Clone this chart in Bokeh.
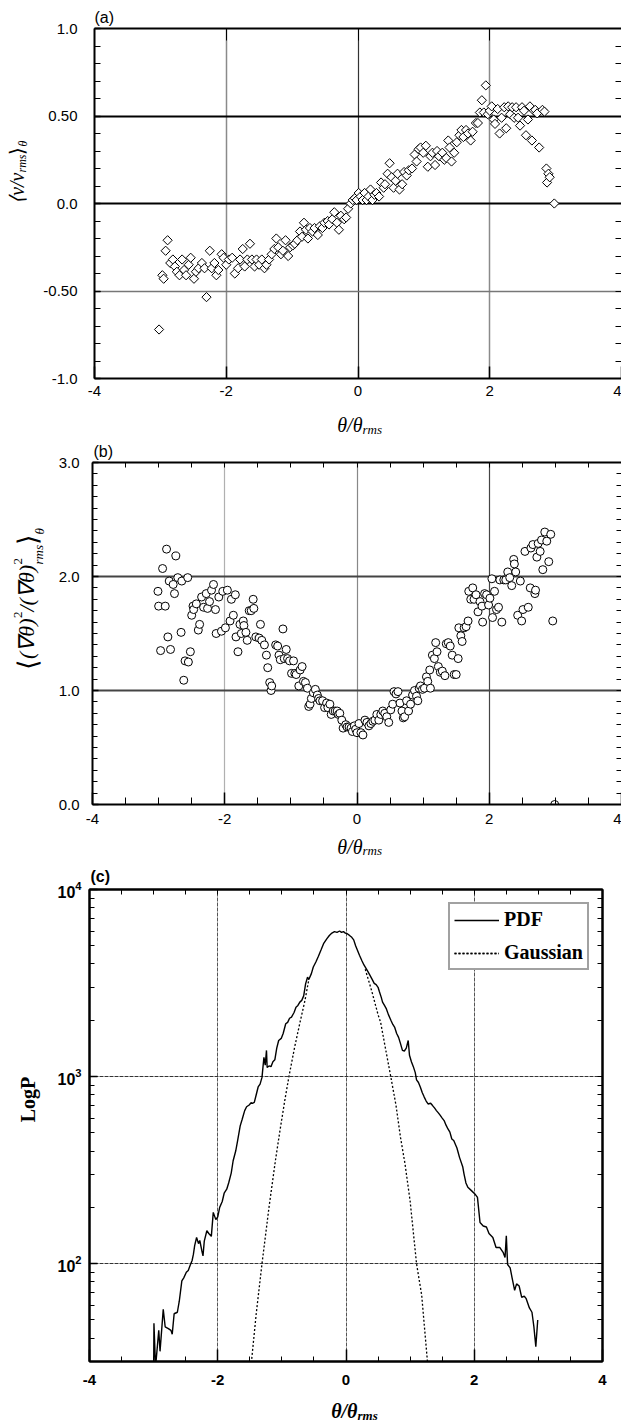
import math
from bokeh.plotting import figure
from bokeh.models import (Label, Title, LinearAxis, LogAxis, LogTicker, SingleIntervalTicker,
                          FixedTicker, Grid, Range1d, CustomJSTickFormatter)
from bokeh.layouts import column, row
from bokeh.embed import file_html
from bokeh.resources import INLINE

# ---------------- data: panel (a) ----------------
A_X = [-3.02, -2.97, -2.95, -2.92, -2.89, -2.85, -2.81, -2.78, -2.75, -2.71,
       -2.67, -2.64, -2.61, -2.57, -2.54, -2.49, -2.46, -2.42, -2.37, -2.33,
       -2.30, -2.25, -2.22, -2.18, -2.15, -2.12, -2.07, -2.04, -2.00, -1.96,
       -1.91, -1.87, -1.82, -1.79, -1.75, -1.72, -1.68, -1.64, -1.61, -1.57,
       -1.54, -1.50, -1.46, -1.42, -1.39, -1.35, -1.31, -1.27, -1.24, -1.21,
       -1.17, -1.14, -1.10, -1.06, -1.03, -0.99, -0.96, -0.92, -0.88, -0.85,
       -0.82, -0.79, -0.76, -0.73, -0.69, -0.66, -0.61, -0.58, -0.54, -0.51,
       -0.46, -0.44, -0.39, -0.36, -0.32, -0.29, -0.26, -0.21, -0.18, -0.15,
       -0.11, -0.08, -0.05, -0.02, 0.01, 0.04, 0.07, 0.10, 0.13, 0.16,
       0.19, 0.22, 0.25, 0.28, 0.32, 0.35, 0.39, 0.41, 0.45, 0.48,
       0.51, 0.54, 0.57, 0.60, 0.63, 0.67, 0.70, 0.74, 0.77, 0.82,
       0.86, 0.89, 0.92, 0.95, 0.99, 1.03, 1.06, 1.10, 1.13, 1.17,
       1.20, 1.23, 1.28, 1.31, 1.34, 1.37, 1.39, 1.42, 1.46, 1.50,
       1.54, 1.57, 1.60, 1.64, 1.67, 1.71, 1.74, 1.79, 1.82, 1.85,
       1.88, 1.91, 1.94, 1.97, 2.00, 2.03, 2.06, 2.08, 2.12, 2.15,
       2.18, 2.22, 2.25, 2.28, 2.31, 2.34, 2.37, 2.40, 2.43, 2.46,
       2.49, 2.52, 2.55, 2.58, 2.61, 2.64, 2.67, 2.69, 2.72, 2.75,
       2.80, 2.83, 2.86, 2.87, 2.89, 2.91, 2.98]
A_Y = [-0.72, -0.41, -0.43, -0.27, -0.21, -0.34, -0.32, -0.36, -0.39, -0.41,
       -0.32, -0.38, -0.41, -0.35, -0.31, -0.43, -0.39, -0.37, -0.34, -0.37,
       -0.535, -0.27, -0.37, -0.34, -0.41, -0.38, -0.29, -0.31, -0.35, -0.32,
       -0.31, -0.40, -0.37, -0.32, -0.26, -0.36, -0.32, -0.23, -0.32, -0.36,
       -0.32, -0.35, -0.32, -0.37, -0.35, -0.32, -0.29, -0.26, -0.20, -0.25,
       -0.29, -0.27, -0.21, -0.30, -0.25, -0.24, -0.23, -0.21, -0.16, -0.19,
       -0.11, -0.15, -0.20, -0.14, -0.16, -0.14, -0.18, -0.13, -0.14, -0.11,
       -0.10, -0.12, -0.09, -0.05, -0.11, -0.15, -0.07, -0.09, -0.08, -0.03,
       0.00, 0.02, 0.03, 0.02, 0.06, 0.04, 0.02, 0.06, 0.02, 0.04,
       0.08, 0.02, 0.05, 0.06, 0.04, 0.12, 0.09, 0.11, 0.17, 0.23,
       0.15, 0.09, 0.13, 0.17, 0.08, 0.11, 0.18, 0.16, 0.19, 0.20,
       0.28, 0.24, 0.31, 0.32, 0.29, 0.33, 0.21, 0.27, 0.29, 0.22,
       0.30, 0.27, 0.29, 0.25, 0.26, 0.36, 0.32, 0.24, 0.29, 0.35,
       0.39, 0.42, 0.38, 0.42, 0.40, 0.36, 0.41, 0.46, 0.46, 0.52,
       0.59, 0.52, 0.675, 0.51, 0.53, 0.555, 0.48, 0.455, 0.54, 0.40,
       0.49, 0.55, 0.43, 0.555, 0.51, 0.55, 0.49, 0.55, 0.49, 0.445,
       0.55, 0.53, 0.39, 0.48, 0.555, 0.36, 0.53, 0.535, 0.515, 0.32,
       0.535, 0.525, 0.20, 0.12, 0.17, 0.15, 0.00]

# ---------------- data: panel (b) ----------------
B_X = [-3.01, -3.00, -2.97, -2.94, -2.90, -2.88, -2.86, -2.84, -2.82, -2.78,
       -2.76, -2.74, -2.71, -2.66, -2.65, -2.62, -2.60, -2.56, -2.55, -2.52,
       -2.50, -2.48, -2.47, -2.43, -2.40, -2.38, -2.35, -2.32, -2.28, -2.26,
       -2.23, -2.20, -2.17, -2.14, -2.13, -2.09, -2.05, -2.03, -1.99, -1.96,
       -1.92, -1.90, -1.87, -1.84, -1.83, -1.80, -1.77, -1.75, -1.72, -1.71,
       -1.68, -1.66, -1.63, -1.60, -1.57, -1.56, -1.53, -1.48, -1.46, -1.44,
       -1.40, -1.37, -1.35, -1.32, -1.30, -1.29, -1.23, -1.20, -1.18, -1.16,
       -1.12, -1.10, -1.07, -1.05, -1.02, -0.99, -0.96, -0.94, -0.92, -0.88,
       -0.86, -0.83, -0.81, -0.78, -0.75, -0.73, -0.71, -0.69, -0.66, -0.63,
       -0.60, -0.58, -0.56, -0.52, -0.49, -0.46, -0.44, -0.41, -0.39, -0.36,
       -0.33, -0.30, -0.28, -0.26, -0.23, -0.21, -0.17, -0.15, -0.12, -0.09,
       -0.07, -0.04, -0.02, 0.00, 0.03, 0.06, 0.09, 0.12, 0.15, 0.18,
       0.21, 0.24, 0.27, 0.30, 0.33, 0.36, 0.39, 0.42, 0.45, 0.48,
       0.51, 0.54, 0.56, 0.59, 0.62, 0.65, 0.68, 0.70, 0.72, 0.75,
       0.78, 0.81, 0.84, 0.87, 0.90, 0.92, 0.94, 0.96, 0.99, 1.02,
       1.05, 1.07, 1.10, 1.11, 1.14, 1.17, 1.19, 1.21, 1.23, 1.26,
       1.29, 1.33, 1.35, 1.38, 1.41, 1.44, 1.47, 1.50, 1.53, 1.54,
       1.57, 1.59, 1.62, 1.65, 1.68, 1.69, 1.72, 1.75, 1.77, 1.80,
       1.83, 1.86, 1.89, 1.90, 1.93, 1.96, 1.99, 2.01, 2.04, 2.05,
       2.08, 2.11, 2.14, 2.16, 2.19, 2.22, 2.25, 2.28, 2.31, 2.34,
       2.37, 2.38, 2.40, 2.43, 2.47, 2.49, 2.51, 2.54, 2.59, 2.62,
       2.63, 2.66, 2.69, 2.70, 2.72, 2.74, 2.77, 2.79, 2.81, 2.84,
       2.87, 2.90, 2.93, 2.96, 2.99]
B_Y = [1.87, 1.74, 1.35, 2.07, 1.74, 2.24, 1.47, 1.96, 1.36, 1.93,
       1.85, 2.18, 1.99, 1.51, 1.96, 1.09, 1.26, 1.99, 1.25, 1.34,
       1.66, 1.74, 1.71, 1.76, 1.53, 1.58, 1.82, 1.73, 1.85, 1.72,
       1.78, 1.88, 1.93, 1.71, 1.50, 1.82, 1.52, 1.87, 1.55, 1.88,
       1.61, 1.80, 1.66, 1.84, 1.47, 1.34, 1.58, 1.50, 1.61, 1.57,
       1.51, 1.44, 1.70, 1.70, 1.80, 1.72, 1.47, 1.46, 1.58, 1.44,
       1.40, 1.31, 1.20, 1.07, 1.00, 1.04, 1.40, 1.39, 1.31, 1.27,
       1.54, 1.28, 1.36, 1.28, 1.26, 1.15, 1.26, 1.15, 1.14, 1.04,
       1.18, 1.21, 1.08, 1.07, 1.02, 0.86, 0.88, 0.93, 0.98, 1.01,
       0.96, 0.93, 0.91, 0.91, 0.85, 0.89, 0.85, 0.88, 0.79, 0.82,
       0.82, 0.82, 0.79, 0.80, 0.74, 0.67, 0.70, 0.68, 0.68, 0.67,
       0.64, 0.69, 0.66, 0.63, 0.71, 0.63, 0.61, 0.74, 0.72, 0.69,
       0.71, 0.73, 0.74, 0.79, 0.74, 0.79, 0.82, 0.80, 0.77, 0.72,
       0.83, 0.88, 0.99, 0.97, 0.99, 0.89, 0.82, 0.76, 0.77, 0.91,
       0.82, 0.88, 0.96, 1.00, 0.95, 0.91, 1.02, 1.04, 1.01, 1.02,
       1.12, 1.08, 1.18, 1.02, 1.31, 1.28, 1.42, 1.34, 1.21, 1.16,
       1.17, 1.13, 1.41, 1.42, 1.39, 1.31, 1.14, 1.14, 1.28, 1.55,
       1.48, 1.43, 1.55, 1.56, 1.61, 1.87, 1.80, 1.90, 1.80, 1.84,
       1.69, 1.78, 1.74, 1.60, 1.85, 1.84, 1.75, 1.81, 1.98, 1.64,
       1.87, 1.71, 1.73, 1.97, 1.60, 1.97, 1.97, 2.04, 1.99, 1.92,
       2.15, 2.11, 2.04, 1.66, 1.96, 1.61, 1.71, 2.22, 1.73, 1.90,
       2.25, 2.28, 1.85, 1.88, 2.17, 2.29, 2.22, 2.32, 2.06, 2.39,
       2.31, 2.13, 2.37, 1.61, 0.00]

# ---------------- data: panel (c) ----------------
C_PDF_X = [-3.00, -2.995, -2.97, -2.92, -2.90, -2.85, -2.82, -2.77, -2.73, -2.71,
           -2.68, -2.63, -2.60, -2.56, -2.53, -2.49, -2.46, -2.43, -2.40, -2.38,
           -2.36, -2.33, -2.30, -2.28, -2.25, -2.23, -2.21, -2.17, -2.14, -2.10,
           -2.07, -2.03, -2.00, -1.97, -1.93, -1.90, -1.86, -1.83, -1.79, -1.76,
           -1.72, -1.69, -1.65, -1.62, -1.58, -1.55, -1.51, -1.48, -1.46, -1.43,
           -1.40, -1.37, -1.34, -1.31, -1.28, -1.26, -1.24, -1.23, -1.20, -1.17,
           -1.14, -1.11, -1.08, -1.05, -1.01, -0.98, -0.94, -0.91, -0.88, -0.85,
           -0.81, -0.78, -0.75, -0.72, -0.69, -0.66, -0.63, -0.60, -0.58, -0.54,
           -0.51, -0.47, -0.43, -0.39, -0.35, -0.30, -0.26, -0.22, -0.18, -0.14,
           -0.10, -0.07, -0.04, -0.01, 0.02, 0.05, 0.09, 0.12, 0.15, 0.18,
           0.21, 0.25, 0.28, 0.31, 0.34, 0.37, 0.41, 0.44, 0.47, 0.50,
           0.52, 0.55, 0.57, 0.60, 0.63, 0.66, 0.70, 0.73, 0.76, 0.79,
           0.82, 0.85, 0.88, 0.91, 0.94, 0.97, 0.99, 1.02, 1.05, 1.08,
           1.10, 1.13, 1.16, 1.19, 1.22, 1.25, 1.28, 1.32, 1.35, 1.38,
           1.41, 1.44, 1.47, 1.50, 1.53, 1.56, 1.59, 1.62, 1.65, 1.68,
           1.73, 1.77, 1.82, 1.84, 1.87, 1.90, 1.96, 2.01, 2.05, 2.09,
           2.14, 2.19, 2.23, 2.29, 2.34, 2.40, 2.45, 2.48, 2.50, 2.52,
           2.56, 2.59, 2.63, 2.66, 2.70, 2.74, 2.78, 2.81, 2.86, 2.90,
           2.93, 2.96, 2.99]
C_PDF_Y = [25, 48, 28, 44, 34, 57, 46, 45, 44, 42,
           54, 55, 63, 81, 84, 90, 92, 98, 104, 112,
           125, 138, 128, 133, 118, 110, 132, 150, 145, 140,
           188, 172, 178, 200, 215, 238, 250, 270, 305, 355,
           400, 455, 545, 590, 658, 690, 705, 725, 720, 728,
           800, 880, 912, 990, 1268, 1150, 1380, 1120, 1140, 1130,
           1200, 1230, 1420, 1560, 1600, 1700, 1915, 1950, 2050, 2080,
           2200, 2350, 2400, 2500, 2555, 2700, 3130, 3400, 3300, 3550,
           3850, 4100, 4400, 4750, 5130, 5450, 5680, 5850, 5950, 5900,
           6000, 5900, 5950, 5850, 5800, 5700, 5550, 5380, 5000, 4720,
           4450, 4150, 3950, 3800, 3650, 3500, 3300, 3150, 3100, 3000,
           2850, 2650, 2500, 2400, 2300, 2150, 2000, 1900, 1830, 1700,
           1620, 1500, 1380, 1370, 1420, 1560, 1300, 1200, 1130, 1050,
           960, 930, 877, 820, 777, 740, 714, 720, 700, 680,
           658, 640, 620, 600, 582, 550, 525, 505, 464, 455,
           415, 370, 330, 302, 270, 256, 245, 236, 226, 166,
           159, 157, 145, 138, 122, 122, 115, 108, 141, 99,
           95, 84, 72, 78, 76, 66, 67, 65, 58, 55,
           46, 36, 50]
C_GAUSS_LEFT_X = [-1.47, -1.40, -1.31, -1.20, -1.10, -1.03, -0.95, -0.89, -0.80, -0.72, -0.64, -0.58]
C_GAUSS_LEFT_Y = [31, 54, 100, 201, 357, 514, 762, 1000, 1442, 1930, 2550, 3300]
C_GAUSS_RIGHT_X = [0.30, 0.40, 0.50, 0.54, 0.60, 0.70, 0.78, 0.85, 0.92, 1.00, 1.10, 1.18, 1.27]
C_GAUSS_RIGHT_Y = [3750, 2877, 2142, 1950, 1510, 991, 701, 473, 342, 216, 100, 68, 30]

# ---------------- ticks ----------------
X_TICKS = [-4, -2, 0, 2, 4]
X_TICK_LABELS = ["-4", "-2", "0", "2", "4"]
A_YTICKS = [-1.0, -0.5, 0.0, 0.5, 1.0]
A_YTICK_LABELS = ["-1.0", "-0.50", "0.0", "0.50", "1.0"]
B_YTICKS = [0.0, 1.0, 2.0, 3.0]
B_YTICK_LABELS = ["0.0", "1.0", "2.0", "3.0"]

SANS = "Liberation Sans"
SERIF = "Liberation Serif"
W = 621
ROT = math.pi / 2

X_HALF_STEPS = [i * 0.5 for i in range(-7, 8)]
A_Y_TENTHS = [i * 0.1 for i in range(-9, 10)]
B_Y_TENTHS = [i * 0.1 for i in range(1, 30)]
C_LOG_MINOR = [m * 10 ** e for e in (1, 2, 3) for m in range(1, 10) if 30 <= m * 10 ** e < 10000]


def tick_fmt(vals, labs):
    return CustomJSTickFormatter(
        args=dict(vals=list(vals), labs=list(labs)),
        code="for (let i = 0; i < vals.length; i++) { if (Math.abs(tick - vals[i]) < 1e-6) { return labs[i]; } } return '';")


def style_axis(ax, major_in, minor_in, size="15px", bold=False, standoff=8):
    ax.axis_line_color = "black"
    ax.axis_line_width = 2
    ax.major_tick_in = major_in
    ax.major_tick_out = 0
    ax.minor_tick_in = minor_in
    ax.minor_tick_out = 0
    ax.major_tick_line_color = "black"
    ax.major_tick_line_width = 1.5
    ax.minor_tick_line_color = "black"
    ax.minor_tick_line_width = 1
    ax.major_label_text_font = SANS
    ax.major_label_text_color = "black"
    ax.major_label_text_font_style = "bold" if bold else "normal"
    ax.major_label_text_font_size = size
    ax.major_label_standoff = standoff


def tick_only_axis(p, place, minor_ticks, length, log=False, line=True):
    cls = LogAxis if log else LinearAxis
    ax = cls(ticker=FixedTicker(ticks=[], minor_ticks=list(minor_ticks)))
    style_axis(ax, 0, length, standoff=0)
    if not line:
        ax.axis_line_color = None
    p.add_layout(ax, place)


def add_grid(p, dim, ticks, color, width, dash="solid"):
    p.add_layout(Grid(dimension=dim, ticker=FixedTicker(ticks=list(ticks)),
                      grid_line_color=color, grid_line_width=width, grid_line_dash=dash))


def strip(width, height):
    s = figure(width=width, height=height, x_range=Range1d(0, 1), y_range=Range1d(0, 1),
               title=None, output_backend="svg", toolbar_location=None, min_border=0,
               x_axis_location=None, y_axis_location=None)
    s.grid.visible = False
    s.outline_line_color = None
    s.background_fill_color = "white"
    s.border_fill_color = "white"
    return s


def txt(p, frame, text, px, py, size, font=SERIF, style="normal", angle=0.0,
        align="left"):
    fl, fb = frame
    p.add_layout(Label(x=px - fl, y=fb - py, x_units="screen", y_units="screen", text=text,
                       text_font=font, text_font_size=f"{size}px", text_font_style=style,
                       text_align=align, text_baseline="middle", angle=angle,
                       text_color="black"))


def panel_title(p, text, standoff, offset, style="normal"):
    p.add_layout(Title(text=text, align="left", vertical_align="bottom", standoff=standoff,
                       offset=offset, text_font=SANS, text_font_size="16px",
                       text_font_style=style, text_color="black"), "above")


def base_fig(width, height, left, right, top, bottom, y_range, y_axis_type="linear",
             outline=True):
    p = figure(width=width, height=height, x_range=Range1d(-4, 4), y_range=y_range,
               y_axis_type=y_axis_type, title=None, output_backend="svg",
               toolbar_location=None, min_border_left=left, min_border_right=right,
               min_border_top=top, min_border_bottom=bottom)
    p.xgrid.visible = False
    p.ygrid.visible = False
    p.outline_line_color = "black" if outline else None
    p.outline_line_width = 2
    p.background_fill_color = "white"
    p.border_fill_color = "white"
    return p


# ================= panel (a) =================  page y 0 .. 436
pA = base_fig(581, 408, 52, 0, 28, 30, Range1d(-1, 1), outline=False)
add_grid(pA, 0, [-2, 2], "#8a8a8a", 1.5)
add_grid(pA, 0, [0], "#333333", 1.2)
add_grid(pA, 1, [0.0, 0.5], "black", 2)
add_grid(pA, 1, [-0.5], "#777777", 1.5)
ax = pA.xaxis[0]
ax.ticker = SingleIntervalTicker(interval=2, num_minor_ticks=0)
ax.formatter = tick_fmt(X_TICKS, X_TICK_LABELS)
style_axis(ax, 12, 0, standoff=7)
ay = pA.yaxis[0]
ay.ticker = SingleIntervalTicker(interval=0.5, num_minor_ticks=5)
ay.formatter = tick_fmt(A_YTICKS, A_YTICK_LABELS)
style_axis(ay, 6, 6, standoff=17)
tick_only_axis(pA, "above", [-2, 0, 2], 12)
tick_only_axis(pA, "right", A_Y_TENTHS, 6, line=False)
panel_title(pA, "(a)", 6, 0)
pA.scatter(A_X, A_Y, marker="square", angle=math.pi / 4, size=6.5,
           line_color="black", line_width=1, fill_color="white")

ylabA = strip(40, 408)
FYA = (0, 408)
txt(ylabA, FYA, "⟨v/v", 16, 202, 20, style="italic", angle=ROT, align="right")
txt(ylabA, FYA, "rms", 21.5, 202, 12, style="italic", angle=ROT)
txt(ylabA, FYA, "⟩", 16, 184, 20, angle=ROT)
txt(ylabA, FYA, "θ", 22.5, 176, 12, style="italic", angle=ROT)
xlabA = strip(W, 28)
txt(xlabA, (0, 436), "θ/θ", 362, 424.5, 20, style="italic", align="right")
txt(xlabA, (0, 436), "rms", 362, 428.5, 13, style="italic")

# ================= panel (b) =================  page y 436 .. 858
pB = base_fig(571, 396, 42, 0, 26, 28, Range1d(0, 3), outline=False)
add_grid(pB, 0, [-2], "#b0b0b0", 1.2)
add_grid(pB, 0, [0], "#888888", 1.2)
add_grid(pB, 0, [2], "#444444", 1.2)
add_grid(pB, 1, [1.0, 2.0], "#444444", 2)
bx = pB.xaxis[0]
bx.ticker = SingleIntervalTicker(interval=2, num_minor_ticks=4)
bx.formatter = tick_fmt(X_TICKS, X_TICK_LABELS)
style_axis(bx, 12, 7, standoff=9)
by = pB.yaxis[0]
by.ticker = SingleIntervalTicker(interval=1, num_minor_ticks=10)
by.formatter = tick_fmt(B_YTICKS, B_YTICK_LABELS)
style_axis(by, 6, 5, standoff=13)
tick_only_axis(pB, "above", X_HALF_STEPS, 5)
tick_only_axis(pB, "right", B_Y_TENTHS, 5, line=False)
panel_title(pB, "(b)", 5, 1)
pB.scatter(B_X, B_Y, marker="circle", size=8, line_color="black", line_width=1,
           fill_color="white")

ylabB = strip(50, 396)
FYB = (0, 832)
txt(ylabB, FYB, "⟨", 27, 697, 27, angle=ROT)
txt(ylabB, FYB, "(∇θ)", 26, 686.5, 22, style="italic", angle=ROT)
txt(ylabB, FYB, "2", 17, 645.5, 13, angle=ROT)
txt(ylabB, FYB, "/(∇θ)", 26, 639, 22, style="italic", angle=ROT)
txt(ylabB, FYB, "2", 17, 592, 13, angle=ROT)
txt(ylabB, FYB, "rms", 37.5, 592, 13, style="italic", angle=ROT)
txt(ylabB, FYB, "⟩", 27, 572.5, 27, angle=ROT)
txt(ylabB, FYB, "θ", 39, 562, 13, style="italic", angle=ROT)
xlabB = strip(W, 26)
txt(xlabB, (0, 858), "θ/θ", 362, 846.5, 20, style="italic", align="right")
txt(xlabB, (0, 858), "rms", 362, 850, 13, style="italic")

# ================= panel (c) =================  page y 858 .. 1425
pC = base_fig(576, 536, 44, 19, 31, 33, Range1d(30, 10000), y_axis_type="log")
add_grid(pC, 0, [-2, 0, 2], "#555555", 1, "4 1")
add_grid(pC, 1, [100, 1000], "#333333", 1, "4 1")
cx = pC.xaxis[0]
cx.ticker = SingleIntervalTicker(interval=2, num_minor_ticks=4)
cx.formatter = tick_fmt(X_TICKS, X_TICK_LABELS)
style_axis(cx, 12, 5, bold=True, standoff=13)
cy = pC.yaxis[0]
cy.ticker = LogTicker(num_minor_ticks=10)
style_axis(cy, 8, 5, size="16px", bold=True, standoff=8)
tick_only_axis(pC, "above", X_HALF_STEPS, 5)
tick_only_axis(pC, "right", C_LOG_MINOR, 5, log=True)
panel_title(pC, "(c)", 10, 1, style="bold")

pC.line(C_GAUSS_LEFT_X, C_GAUSS_LEFT_Y, line_color="black", line_width=1.3,
        line_dash="2 2", legend_label="Gaussian")
pC.line(C_GAUSS_RIGHT_X, C_GAUSS_RIGHT_Y, line_color="black", line_width=1.3,
        line_dash="2 2", legend_label="Gaussian")
pC.line(C_PDF_X, C_PDF_Y, line_color="black", line_width=1.4, legend_label="PDF")

lg = pC.legend[0]
lg.items = [lg.items[1], lg.items[0]]
lg.location = (359, 391)
lg.margin = 0
lg.padding = 4
lg.spacing = 10
lg.glyph_width = 45
lg.glyph_height = 22
lg.label_height = 22
lg.label_standoff = 5
lg.label_text_font = SERIF
lg.label_text_font_style = "bold"
lg.label_text_font_size = "20px"
lg.label_text_color = "black"
lg.border_line_color = "#444444"
lg.border_line_width = 2
lg.background_fill_color = "white"
lg.background_fill_alpha = 1.0

ylabC = strip(45, 536)
txt(ylabC, (0, 1394), "LogP", 27, 1132, 20, style="bold", angle=ROT, align="center")
xlabC = strip(W, 31)
txt(xlabC, (0, 1425), "θ/θ", 357, 1410, 20, style="bold italic", align="right")
txt(xlabC, (0, 1425), "rms", 357, 1415, 13, style="bold italic")

layout = column(
    row(ylabA, pA), xlabA,
    row(ylabB, pB), xlabB,
    row(ylabC, pC), xlabC,
)
open("out.html", "w").write(file_html(layout, INLINE))
